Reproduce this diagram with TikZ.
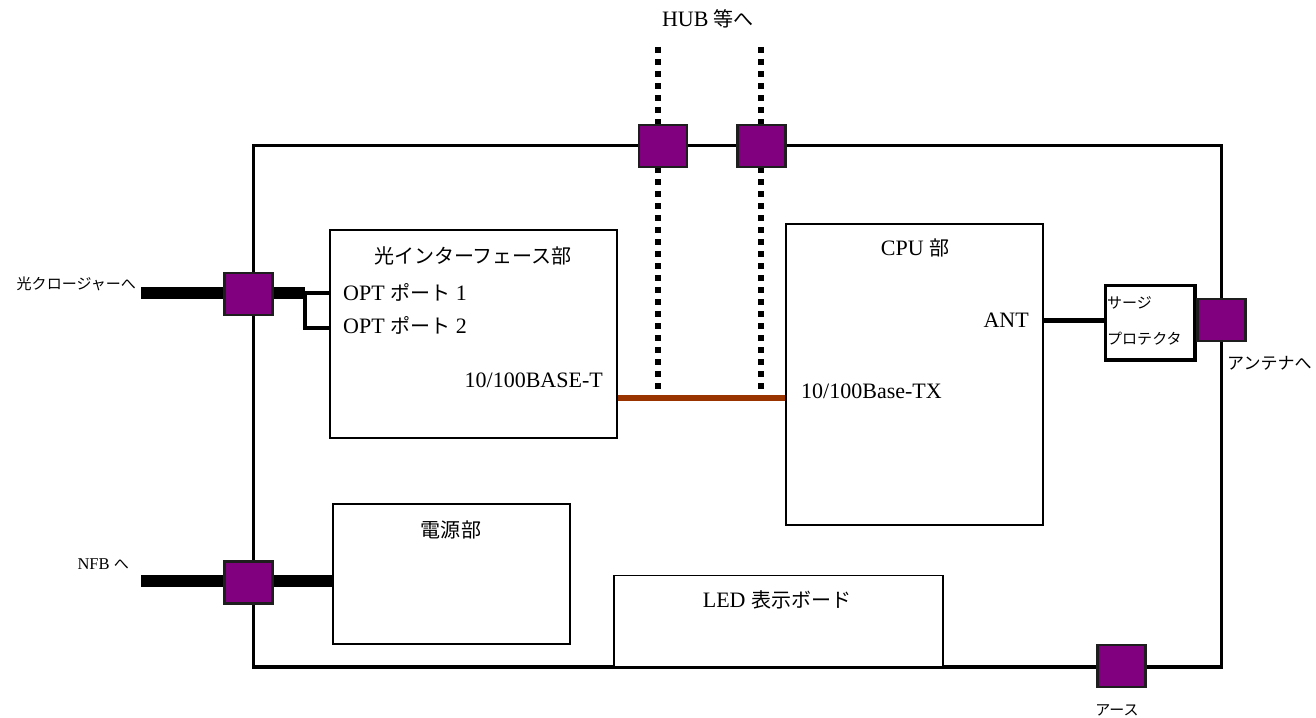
\documentclass[tikz,border=0pt]{standalone}
\usepackage{fontspec}
\setmainfont{Liberation Serif}
\newfontfamily\jp[Scale=0.91]{Noto Sans CJK JP}
\definecolor{portpurple}{RGB}{128,0,128}
\definecolor{lanbrown}{RGB}{153,51,0}
\definecolor{portedge}{RGB}{30,30,30}
\pgfdeclarelayer{bg}
\pgfsetlayers{bg,main}
\begin{document}
\begin{tikzpicture}[x=1pt,y=-1pt,
  frame/.style={draw, line width=3.5pt, inner sep=0pt},
  box/.style={draw, line width=1.2pt, fill=white, inner sep=0pt},
  surgebox/.style={draw, line width=3.5pt, fill=white, inner sep=0pt},
  port/.style={draw=portedge, line width=2.5pt, fill=portpurple, inner sep=0pt,
               minimum width=48pt, minimum height=42pt},
  lbl/.style={font=\fontsize{22}{26}\selectfont, inner sep=0pt},
  small/.style={font=\fontsize{16.5}{20}\selectfont, inner sep=0pt},
  smallb/.style={font=\fontsize{18.7}{22}\selectfont, inner sep=0pt},
  cable/.style={line width=12pt},
  wire/.style={line width=5pt},
  lan/.style={line width=5.5pt, dash pattern=on 6pt off 6pt},
  brownline/.style={draw=lanbrown, line width=5.5pt}]
\useasboundingbox (0,0) rectangle (1316,717);

% main frame and boxes
\node[frame, minimum width=968pt, minimum height=521.5pt] (main) at (737.5,406.25) {};
\node[box, minimum width=287pt, minimum height=208pt] (opt) at (473.5,334) {};
\node[box, minimum width=257pt, minimum height=301pt] (cpu) at (914.5,374.5) {};
\node[box, minimum width=237pt, minimum height=140pt] (pwr) at (451.5,574) {};
\node[box, minimum width=329pt, minimum height=91pt] (led) at (778.5,621) {};
\node[surgebox, minimum width=89.5pt, minimum height=74.5pt] (surge) at (1150.25,322.75) {};

% ports
\node[port] (p1) at (663,146) {};
\node[port] (p2) at (761.5,146) {};
\node[port] (pl1) at (248.5,294) {};
\node[port] (pl2) at (248.5,582.5) {};
\node[port] (pr) at (1221.5,320) {};
\node[port] (pb) at (1121.5,666) {};

% coordinates for free ends
\coordinate (clos) at (141,293);
\coordinate (brk) at (305,293);
\coordinate (o1) at (330,293);
\coordinate (o2) at (330,328);
\coordinate (nfb) at (141,581);
\coordinate (lanY) at (0,398);
\coordinate (antY) at (0,320.5);
\coordinate (h1top) at (658,47);
\coordinate (h1bot) at (658,396);
\coordinate (h2top) at (761,47);
\coordinate (h2bot) at (761,396);

\begin{pgfonlayer}{bg}
  \draw[lan] (h1top) -- (h1bot);
  \draw[lan] (h2top) -- (h2bot);
  \draw[cable] (clos) -- (brk);
  \draw[cable] (nfb) -- (pwr.west |- nfb);
\end{pgfonlayer}
\draw[wire, line width=4.5pt] (o1) -- (brk) |- (o2);
\draw[brownline] (opt.east |- lanY) -- (cpu.west |- lanY);
\draw[wire] (cpu.east |- antY) -- (surge.west |- antY);

% texts
\node[lbl] (hub) at (708,19) {HUB {\jp 等へ}};
\node[small, anchor=east] (tocl) at (136,284) {\jp 光クロージャーへ};
\node[small, anchor=east] (tonfb) at (129,564) {NFB {\jp へ}};
\node[lbl] (optt) at (473,256) {\jp 光インターフェース部};
\node[lbl, anchor=west] (op1) at (343,292) {OPT {\jp ポート} 1};
\node[lbl, anchor=west] (op2) at (343,325) {OPT {\jp ポート} 2};
\node[lbl, anchor=east] (b10) at (603,380) {10/100BASE-T};
\node[lbl] (cput) at (915,248) {CPU {\jp 部}};
\node[lbl, anchor=east] (antt) at (1029,320) {ANT};
\node[lbl, anchor=west] (btx) at (801,391) {10/100Base-TX};
\node[lbl] (pwrt) at (451,530) {\jp 電源部};
\node[lbl] (ledt) at (777,600) {LED {\jp 表示ボード}};
\node[small, anchor=west] (sg1) at (1107,303) {\jp サージ};
\node[small, anchor=west] (sg2) at (1107,339) {\jp プロテクタ};
\node[smallb, anchor=west] (antn) at (1227,363) {\jp アンテナへ};
\node[small] (earth) at (1117,710) {\jp アース};
\end{tikzpicture}
\end{document}
